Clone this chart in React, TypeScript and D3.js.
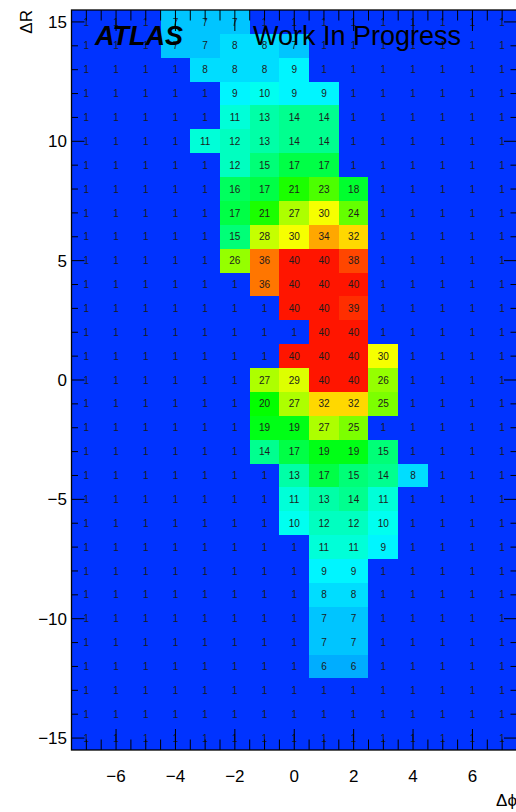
import React from "react";
import * as d3 from "d3";

// Δφ bin centres (columns) and ΔR bin centres (rows, top to bottom)
const dphiBins = [-7, -6, -5, -4, -3, -2, -1, 0, 1, 2, 3, 4, 5, 6, 7];
const dRBins = [15, 14, 13, 12, 11, 10, 9, 8, 7, 6, 5, 4, 3, 2, 1, 0, -1, -2, -3, -4, -5, -6, -7, -8, -9, -10, -11, -12, -13, -14, -15];

// bin contents, one row per ΔR bin (same order as dRBins), columns follow dphiBins
const counts: number[][] = [
  [1, 1, 1, 7, 7, 7, 1, 1, 1, 1, 1, 1, 1, 1, 1],
  [1, 1, 1, 7, 7, 8, 8, 7, 1, 1, 1, 1, 1, 1, 1],
  [1, 1, 1, 1, 8, 8, 8, 9, 1, 1, 1, 1, 1, 1, 1],
  [1, 1, 1, 1, 1, 9, 10, 9, 9, 1, 1, 1, 1, 1, 1],
  [1, 1, 1, 1, 1, 11, 13, 14, 14, 1, 1, 1, 1, 1, 1],
  [1, 1, 1, 1, 11, 12, 13, 14, 14, 1, 1, 1, 1, 1, 1],
  [1, 1, 1, 1, 1, 12, 15, 17, 17, 1, 1, 1, 1, 1, 1],
  [1, 1, 1, 1, 1, 16, 17, 21, 23, 18, 1, 1, 1, 1, 1],
  [1, 1, 1, 1, 1, 17, 21, 27, 30, 24, 1, 1, 1, 1, 1],
  [1, 1, 1, 1, 1, 15, 28, 30, 34, 32, 1, 1, 1, 1, 1],
  [1, 1, 1, 1, 1, 26, 36, 40, 40, 38, 1, 1, 1, 1, 1],
  [1, 1, 1, 1, 1, 1, 36, 40, 40, 40, 1, 1, 1, 1, 1],
  [1, 1, 1, 1, 1, 1, 1, 40, 40, 39, 1, 1, 1, 1, 1],
  [1, 1, 1, 1, 1, 1, 1, 1, 40, 40, 1, 1, 1, 1, 1],
  [1, 1, 1, 1, 1, 1, 1, 40, 40, 40, 30, 1, 1, 1, 1],
  [1, 1, 1, 1, 1, 1, 27, 29, 40, 40, 26, 1, 1, 1, 1],
  [1, 1, 1, 1, 1, 1, 20, 27, 32, 32, 25, 1, 1, 1, 1],
  [1, 1, 1, 1, 1, 1, 19, 19, 27, 25, 1, 1, 1, 1, 1],
  [1, 1, 1, 1, 1, 1, 14, 17, 19, 19, 15, 1, 1, 1, 1],
  [1, 1, 1, 1, 1, 1, 1, 13, 17, 15, 14, 8, 1, 1, 1],
  [1, 1, 1, 1, 1, 1, 1, 11, 13, 14, 11, 1, 1, 1, 1],
  [1, 1, 1, 1, 1, 1, 1, 10, 12, 12, 10, 1, 1, 1, 1],
  [1, 1, 1, 1, 1, 1, 1, 1, 11, 11, 9, 1, 1, 1, 1],
  [1, 1, 1, 1, 1, 1, 1, 1, 9, 9, 1, 1, 1, 1, 1],
  [1, 1, 1, 1, 1, 1, 1, 1, 8, 8, 1, 1, 1, 1, 1],
  [1, 1, 1, 1, 1, 1, 1, 1, 7, 7, 1, 1, 1, 1, 1],
  [1, 1, 1, 1, 1, 1, 1, 1, 7, 7, 1, 1, 1, 1, 1],
  [1, 1, 1, 1, 1, 1, 1, 1, 6, 6, 1, 1, 1, 1, 1],
  [1, 1, 1, 1, 1, 1, 1, 1, 1, 1, 1, 1, 1, 1, 1],
  [1, 1, 1, 1, 1, 1, 1, 1, 1, 1, 1, 1, 1, 1, 1],
  [1, 1, 1, 1, 1, 1, 1, 1, 1, 1, 1, 1, 1, 1, 1],
];

const xTickLabels = [-6, -4, -2, 0, 2, 4, 6];
const yTickLabels = [-15, -10, -5, 0, 5, 10, 15];

const W = 516;
const H = 812;
const PL = 71.5;
const PR = 517;
const PT = 10;
const PB = 750;
const FONT = "'Liberation Sans', Arial, Helvetica, sans-serif";

const fmt = (v: number) => (v < 0 ? "\u2212" + Math.abs(v) : String(v));

export default function App() {
  const x = d3.scaleLinear().domain([-7.5, 7.5]).range([PL, PR]);
  const y = d3.scaleLinear().domain([-15.5, 15.5]).range([PB, PT]);
  const hue = d3.scaleLinear().domain([1, 40]).range([228, 5]);
  const color = (v: number) => d3.hsl(hue(v), 1, 0.5).formatHex();

  const xMinor = d3.range(-7.5, 7.51, 0.5);
  const yMinor = d3.range(-15, 15.01, 1);
  const xMajLen = 21, xMinLen = 10.5, yMajLen = 13, yMinLen = 6.5;

  return (
    <svg
      width={W}
      height={H}
      style={{ position: "absolute", left: 0, top: 0, background: "#fff" }}
      fontFamily={FONT}
    >
      <defs>
        <clipPath id="plotclip">
          <rect x={PL} y={PT} width={PR - PL} height={PB - PT} />
        </clipPath>
      </defs>
      <g clipPath="url(#plotclip)">
        <rect x={PL} y={PT} width={PR - PL} height={PB - PT} fill={color(1)} />
        <g shapeRendering="crispEdges">
          {counts.map((row, ri) =>
            row.map((v, ci) => {
              const x0 = Math.round(x(dphiBins[ci] - 0.5));
              const x1 = Math.round(x(dphiBins[ci] + 0.5));
              const y0 = Math.round(y(dRBins[ri] + 0.5));
              const y1 = Math.round(y(dRBins[ri] - 0.5));
              return (
                <rect
                  key={`c${ri}-${ci}`}
                  x={x0}
                  y={y0}
                  width={x1 - x0}
                  height={y1 - y0}
                  fill={color(v)}
                />
              );
            })
          )}
        </g>
        {counts.map((row, ri) =>
          row.map((v, ci) => (
            <text
              key={`t${ri}-${ci}`}
              x={x(dphiBins[ci])}
              y={y(dRBins[ri])}
              dy="0.36em"
              textAnchor="middle"
              fontSize={10}
              fill="#1c1c1c"
            >
              {v}
            </text>
          ))
        )}
        {/* x ticks bottom and top */}
        {xMinor.map((t) => {
          const major = xTickLabels.includes(t);
          const len = major ? xMajLen : xMinLen;
          return (
            <g key={`xt${t}`} stroke="#000" strokeWidth={1}>
              <line x1={x(t)} x2={x(t)} y1={PB} y2={PB - len} />
              <line x1={x(t)} x2={x(t)} y1={PT} y2={PT + len} />
            </g>
          );
        })}
        {/* y ticks left and right */}
        {yMinor.map((t) => {
          const major = yTickLabels.includes(t);
          const len = major ? yMajLen : yMinLen;
          return (
            <g key={`yt${t}`} stroke="#000" strokeWidth={1}>
              <line x1={PL} x2={PL + len} y1={y(t)} y2={y(t)} />
              <line x1={PR} x2={PR - len} y1={y(t)} y2={y(t)} />
            </g>
          );
        })}
      </g>
      <rect x={PL} y={PT} width={PR - PL} height={PB - PT} fill="none" stroke="#000" strokeWidth={1.3} />

      {xTickLabels.map((t) => (
        <text key={`xl${t}`} x={x(t)} y={782} textAnchor="middle" fontSize={17} fill="#000">
          {fmt(t)}
        </text>
      ))}
      {yTickLabels.map((t) => (
        <text key={`yl${t}`} x={67} y={y(t)} dy="0.36em" textAnchor="end" fontSize={17} fill="#000">
          {fmt(t)}
        </text>
      ))}
      <text x={PR} y={806} textAnchor="end" fontSize={17} fill="#000">
        Δϕ
      </text>
      <text transform={`translate(32,${PT}) rotate(-90)`} textAnchor="end" fontSize={17} fill="#000">
        ΔR
      </text>

      <text x={95} y={45} fontSize={27} fontWeight="bold" fontStyle="italic" fill="#000">
        ATLAS
      </text>
      <text x={253} y={45} fontSize={27} fill="#000">
        Work In Progress
      </text>
    </svg>
  );
}
